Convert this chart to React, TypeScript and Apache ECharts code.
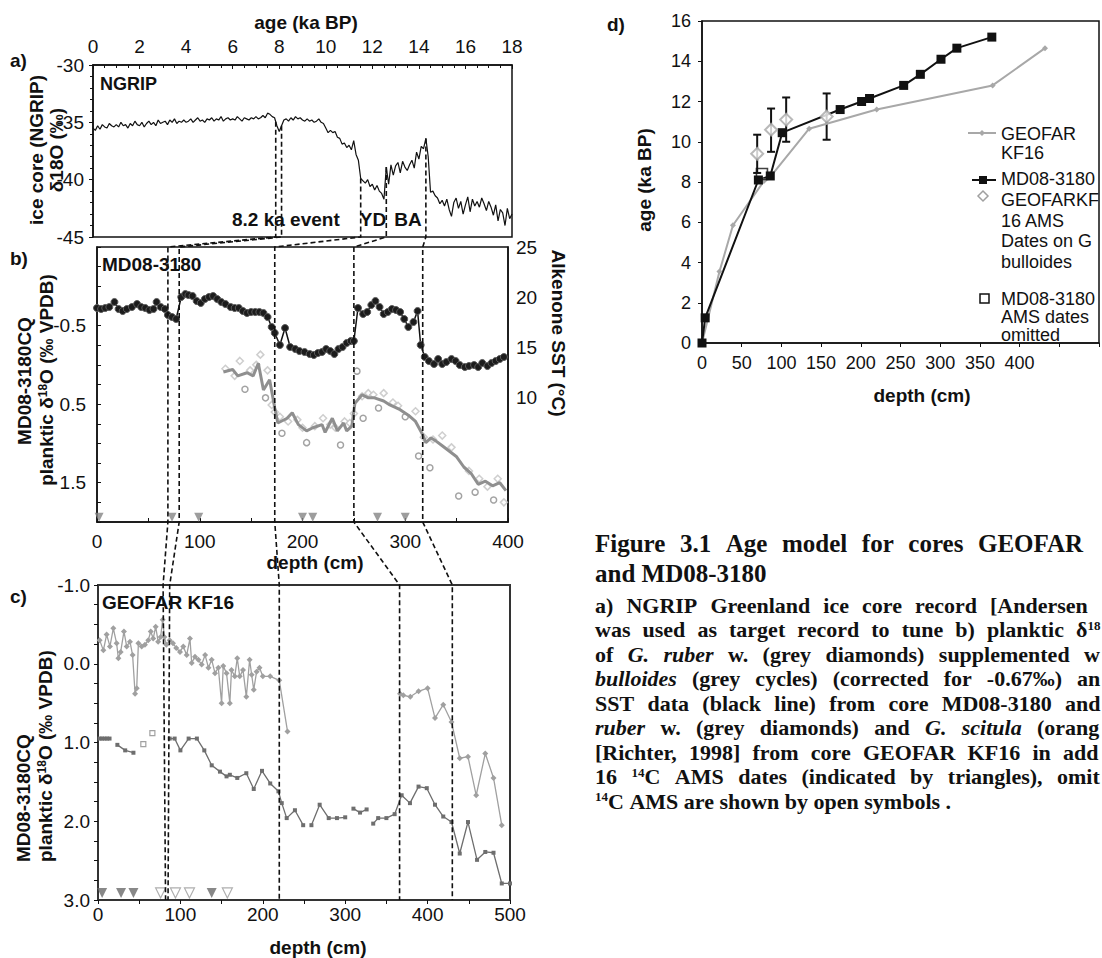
import React, { useEffect, useRef } from 'react';
import * as echarts from 'echarts';

const SANS = '"Liberation Sans", Arial, Helvetica, sans-serif';
const SERIF = '"Liberation Serif", "Times New Roman", Times, serif';
const INK = '#111111';

// ---------- a) NGRIP δ18O (‰), one value every 0.1 ka from 0 to 18 ka ----------
const NGRIP_STEP_KA = 0.1;
const ngripD18O = [
  -35.5, -35.7, -35.3, -35.6, -35.2, -35.4, -35.5, -35.1, -35.3, -35.4, -35.2,
  -35.4, -35.0, -35.3, -35.2, -35.5, -35.1, -35.3, -34.9, -35.2, -35.3,
  -35.0, -35.4, -35.1, -34.9, -35.2, -35.0, -35.3, -34.8, -35.1, -35.0,
  -34.9, -35.2, -34.8, -35.0, -34.7, -35.1, -34.9, -35.0, -34.8, -35.0,
  -34.9, -34.7, -35.0, -34.8, -34.6, -34.9, -34.8, -35.0, -34.7, -34.8,
  -34.6, -34.9, -34.7, -34.8, -34.5, -34.9, -34.7, -34.6, -34.8, -34.7,
  -34.8, -34.5, -34.7, -34.9, -34.6, -34.7, -34.8, -34.6, -34.7, -34.5,
  -34.7, -34.6, -34.4, -34.6, -34.2, -34.3, -34.5, -34.6, -35.3, -35.8,
  -35.3, -34.8, -34.7, -34.9, -34.6, -34.8, -34.5, -34.7, -34.6, -34.8,
  -34.9, -34.7, -34.9, -34.8, -35.0, -34.9, -34.7, -35.0, -35.1, -35.5,
  -35.9, -35.7, -35.9, -35.8, -36.3, -36.4, -36.9, -36.8, -37.2, -37.0,
  -37.4, -36.6, -37.8, -38.3, -39.9, -40.1, -40.3, -40.0, -40.6, -40.4,
  -40.9, -40.5, -41.0, -41.2, -41.7, -38.9, -40.4, -38.7, -39.6, -38.8,
  -38.5, -39.4, -38.4, -38.9, -39.2, -38.7, -38.3, -39.0, -37.6, -38.2,
  -37.1, -37.3, -36.4, -38.0, -41.1, -41.0, -41.4, -41.6, -42.1, -41.8,
  -42.3, -41.7, -42.6, -43.2, -42.0, -41.6, -42.5, -41.9, -43.0, -42.2,
  -41.5, -42.8, -41.7, -42.3, -41.9, -42.4, -41.6, -42.1, -42.7, -41.9,
  -42.4, -43.1, -42.2, -43.6, -42.6, -42.9, -44.0, -42.5, -43.4, -43.0,
];

// ---------- b) MD08-3180 ----------
const sstDepth = [
  0, 4, 8, 12, 17, 21, 25, 29, 34, 39, 43, 47, 51, 55, 58, 62, 66, 69, 73, 77,
  82, 86, 89, 93, 97, 101, 105, 109, 113, 117, 121, 125, 130, 134, 138, 142, 146, 150, 154, 158,
  162, 166, 170, 173, 178, 183, 188, 193, 197, 202, 207, 211, 215, 219, 223, 227, 231, 235, 239, 243,
  247, 250, 254, 259, 263, 267, 271, 275, 279, 283, 287, 291, 295, 299, 303, 308, 312, 315, 319, 323,
  328, 332, 336, 340, 345, 349, 353, 358, 362, 367, 371, 375, 380, 384, 388, 392, 396,
];
const sstValue = [
  18.9, 18.8, 18.9, 19.0, 19.5, 18.8, 18.6, 18.8, 19.0, 19.3, 19.0, 18.9, 18.7, 18.8, 19.5, 19.0, 18.8, 18.2, 18.0, 17.8,
  20.0, 20.3, 20.2, 20.1, 19.6, 19.4, 19.8, 20.0, 20.1, 19.8, 19.5, 19.3, 19.0, 18.9, 18.9, 18.6, 18.4, 18.5, 18.5, 18.5,
  18.4, 18.0, 17.0, 16.4, 15.2, 16.9, 15.0, 14.8, 14.6, 14.5, 14.3, 14.2, 14.4, 14.5, 14.8, 14.6, 14.3, 14.8, 15.0, 15.4,
  15.6, 15.6, 18.9, 18.3, 18.5, 19.2, 19.6, 19.0, 18.3, 18.5, 18.8, 18.7, 18.5, 17.8, 17.0, 17.5, 18.6, 15.2, 14.0, 13.6,
  13.3, 13.8, 13.3, 13.5, 13.8, 13.6, 13.2, 13.0, 13.1, 13.2, 13.0, 13.4, 13.1, 13.4, 13.6, 13.8, 14.0,
];
const smoothDepth = [
  123, 132, 137, 146, 152, 157, 162, 168, 173, 176, 185, 190, 196, 204, 210, 219, 222, 229, 234, 240,
  243, 248, 251, 258, 264, 270, 279, 285, 295, 303, 310, 317, 320, 325, 330, 336, 343, 350, 357, 364,
  371, 378, 385, 392, 398,
];
const smoothD18O = [
  0.09, 0.06, 0.14, 0.10, 0.14, -0.02, 0.32, 0.19, 0.55, 0.74, 0.68, 0.61, 0.76, 0.84, 0.80, 0.76, 0.86, 0.68, 0.84, 0.74,
  0.84, 0.78, 0.49, 0.38, 0.42, 0.42, 0.46, 0.51, 0.57, 0.64, 0.72, 0.89, 0.99, 0.93, 0.97, 1.03, 1.10, 1.17, 1.30, 1.38,
  1.52, 1.48, 1.54, 1.50, 1.60,
];
const ruberMD = [
  [125, 0.05], [134, 0.14], [139, -0.05], [149, 0.07], [155, 0.0], [159, -0.13], [166, 0.07], [170, 0.51],
  [173, 0.6], [178, 0.66], [186, 0.72], [195, 0.7], [200, 0.8], [212, 0.78], [220, 0.68], [227, 0.76],
  [232, 0.8], [241, 0.72], [246, 0.74], [250, 0.62], [258, 0.4], [264, 0.36], [269, 0.38], [279, 0.36],
  [288, 0.48], [293, 0.52], [310, 0.59], [318, 0.92], [327, 0.95], [336, 0.9], [345, 1.05], [362, 1.35],
  [372, 1.45], [380, 1.55], [390, 1.45], [396, 1.75],
];
const bulloidesMD = [
  [144, 0.31], [164, 0.42], [180, 0.87], [204, 0.99], [237, 1.02], [253, 0.08], [259, 0.68], [274, 0.55],
  [300, 0.66], [313, 1.16], [324, 1.31], [352, 1.67], [368, 1.62], [386, 1.72],
];
const datesMD = [2, 73, 99, 200, 210, 273, 300];
const DATE_ROW_MD = 1.94;

// ---------- c) GEOFAR KF16 ----------
const ruberKFUpper = [
  [2, -0.3], [6.5, -0.17], [10.5, -0.37], [14.5, -0.22], [18.6, -0.45], [22.6, -0.26], [24.7, -0.07], [27.5, -0.15],
  [31.5, -0.41], [34.8, -0.22], [38.8, -0.28], [42, -0.11], [45, 0.38], [47, 0.31], [49, -0.26], [53, -0.22],
  [57, -0.24], [61, -0.3], [64, -0.41], [67, -0.32], [70, -0.47], [73, -0.28], [76, -0.34], [78.5, -0.56],
  [80.5, -0.34], [83, -0.24], [87, -0.3], [91, -0.26], [95, -0.2], [99.5, -0.15], [103.5, -0.22], [107.6, -0.11],
  [111.6, -0.32], [113.7, -0.01], [117.7, -0.09], [121.8, -0.05], [125.8, 0.01], [130, -0.11], [134, 0.05], [138, -0.05],
  [142, 0.12], [146, 0.05], [150, 0.5], [152, 0.03], [156, 0.12], [160, 0.5], [162, 0.08], [166, 0.16],
  [169, -0.07], [172, 0.16], [176, 0.08], [180, 0.42], [184, -0.05], [186.5, 0.14], [189, 0.33], [192.5, 0.1],
  [196, 0.05], [200, 0.16], [209, 0.16], [220, 0.21], [230, 0.86],
];
const ruberKFLower = [
  [366.5, 0.38], [370.5, 0.4], [379, 0.42], [389, 0.35], [400, 0.31], [409, 0.69], [419, 0.52], [429, 0.74],
  [439, 1.2], [449, 1.18], [459, 1.67], [470, 1.14], [480, 1.45], [490, 2.05],
];
const scitulaKFSegments = [
  [[2, 0.95], [5, 0.95], [8, 0.95], [11, 0.95], [14, 0.95]],
  [[23.5, 1.03], [33, 1.1], [43, 1.13]],
  [
    [87, 0.95], [93, 0.95], [100, 1.1], [110, 0.95], [120, 0.95], [129, 1.1], [138, 1.29], [148, 1.37],
    [156, 1.43], [160, 1.41], [169, 1.45], [180, 1.39], [189, 1.59], [199, 1.36], [209, 1.52], [219, 1.62],
    [223, 1.77], [229, 1.96], [239, 1.86], [249, 2.05],
  ],
  [[259, 2.05], [269, 1.79], [280, 1.96], [290, 1.96], [300, 1.95]],
  [[310, 1.84], [318, 1.89], [326, 1.85]],
  [
    [334, 2.03], [340, 1.96], [350, 1.96], [360, 1.91], [368.5, 1.67], [378.6, 1.77], [389, 1.56], [399, 1.58],
    [409, 1.79], [419, 1.94], [429, 2.01], [439, 2.41], [449, 2.01], [460, 2.49], [470, 2.39], [480, 2.4],
    [490, 2.79], [500, 2.79],
  ],
];
const scitulaKFOpen = [[55, 1.02], [66, 0.88]];
const datesKFUsed = [5, 28, 43, 138];
const datesKFOmitted = [76, 94, 111, 157];
const DATE_ROW_KF = 2.91;

// ---------- d) age models ----------
const geofarDepth = [0, 22, 39, 78, 87, 135, 220, 366, 432];
const geofarAge = [0, 3.55, 5.85, 8.05, 8.3, 10.65, 11.6, 12.8, 14.65];
const mdDepth = [0, 4, 71, 86, 101, 174, 201, 211, 254, 275, 301, 321, 365];
const mdAge = [0, 1.25, 8.1, 8.3, 10.45, 11.6, 12.0, 12.15, 12.8, 13.35, 14.1, 14.65, 15.2];
const amsDepth = [69.5, 87, 106, 157];
const amsAge = [9.4, 10.6, 11.1, 11.25];
const amsLow = [8.45, 9.5, 10.0, 10.1];
const amsHigh = [10.35, 11.65, 12.2, 12.4];
const omittedDepth = [75.5];
const omittedAge = [8.4];

// ---------- tie points (8.2 ka event pair, YD end, YD start, BA start) ----------
const eventAge = [7.85, 8.1, 11.5, 12.6, 14.3];
const eventDepthMD = [69, 80, 173, 250, 317];
const eventDepthKFTop = [79, 87, 220, 366, 430];
const eventDepthKFBottom = [82, 85, 220, 366, 430];

// ---------- caption ----------
const CAPTION_X = 595;
const captionHead = [
  { text: 'Figure 3.1 Age model for cores GEOFAR', lastStart: 978 },
  { text: 'and MD08-3180' },
];
const captionBody = [
  { text: 'a) NGRIP Greenland ice core record [Andersen', lastStart: 990 },
  { text: 'was used as target record to tune b) planktic δ^18^', lastStart: 1076 },
  { text: 'of *G.* *ruber* w. (grey diamonds) supplemented w', lastStart: 1084 },
  { text: '*bulloides* (grey cycles) (corrected for -0.67‰) an', lastStart: 1077 },
  { text: 'SST data (black line) from core MD08-3180 and', lastStart: 1065 },
  { text: '*ruber* w. (grey diamonds) and *G.* *scitula* (orang', lastStart: 1037 },
  { text: '[Richter, 1998] from core GEOFAR KF16 in add', lastStart: 1063 },
  { text: '16 ^14^C AMS dates (indicated by triangles), omit', lastStart: 1057 },
  { text: '^14^C AMS are shown by open symbols .' },
];

const pairs = (xs: number[], ys: number[]) => xs.map((x, i) => [x, ys[i]]);
const withBreaks = (segs: number[][][]) =>
  segs.flatMap((s, i) => (i === 0 ? s : [[s[0][0], '-'], ...s]));
const ngripSeries = ngripD18O.map((v, i) => [Math.round(i * NGRIP_STEP_KA * 10) / 10, v]);

function ngripAt(age: number) {
  const f = age / NGRIP_STEP_KA;
  const i = Math.floor(f);
  const t = f - i;
  const a = ngripD18O[Math.min(i, ngripD18O.length - 1)];
  const b = ngripD18O[Math.min(i + 1, ngripD18O.length - 1)];
  return a + (b - a) * t;
}

const near = (v: number, list: number[]) => list.some((t) => Math.abs(t - v) < 1e-6);

const axisLineStyle = { show: true, onZero: false, lineStyle: { color: INK, width: 1.5 } };
const labelStyle = (extra: any = {}) => ({ fontFamily: SANS, fontSize: 19, color: INK, ...extra });

function buildOption() {
  const hollow = (border: string, width = 1.5) => ({ color: '#ffffff', borderColor: border, borderWidth: width });
  return {
    animation: false,
    backgroundColor: '#ffffff',
    grid: [
      { left: 93, top: 65, width: 419, height: 172, show: true, borderColor: INK, borderWidth: 1.5, backgroundColor: 'transparent' },
      { left: 97, top: 247, width: 411, height: 275, show: true, borderColor: INK, borderWidth: 1.5, backgroundColor: 'transparent' },
      { left: 98, top: 585, width: 412, height: 315, show: true, borderColor: '#333', borderWidth: 2, backgroundColor: 'transparent' },
      { left: 702, top: 21, width: 406, height: 322, show: true, borderColor: INK, borderWidth: 1.5, backgroundColor: 'transparent' },
    ],
    xAxis: [
      {
        type: 'value', gridIndex: 0, position: 'top', min: 0, max: 18, interval: 2,
        axisLine: axisLineStyle,
        axisTick: { show: true, inside: true, length: 4, lineStyle: { color: INK } },
        minorTick: { show: true, splitNumber: 4, length: 3, lineStyle: { color: INK } },
        axisLabel: labelStyle({ margin: 9 }),
        splitLine: { show: false },
      },
      {
        type: 'value', gridIndex: 1, position: 'bottom', min: 0, max: 400, interval: 100,
        axisLine: axisLineStyle,
        axisTick: { show: true, inside: true, length: 4, lineStyle: { color: INK } },
        minorTick: { show: true, splitNumber: 2, length: 4, lineStyle: { color: INK } },
        axisLabel: labelStyle({ margin: 10 }),
        splitLine: { show: false },
      },
      {
        type: 'value', gridIndex: 2, position: 'bottom', min: 0, max: 500, interval: 100,
        axisLine: { show: true, onZero: false, lineStyle: { color: '#333', width: 2 } },
        axisTick: { show: true, length: 4, lineStyle: { color: INK } },
        minorTick: { show: true, splitNumber: 2, length: 4, lineStyle: { color: INK } },
        axisLabel: labelStyle({ margin: 5 }),
        splitLine: { show: false },
      },
      {
        type: 'value', gridIndex: 3, position: 'bottom', min: 0, max: 500, interval: 50,
        axisLine: axisLineStyle,
        axisTick: { show: true, length: 4, lineStyle: { color: INK } },
        axisLabel: labelStyle({ fontSize: 18, margin: 11, formatter: (v: number) => (v <= 400 ? String(v) : '') }),
        splitLine: { show: false },
      },
    ],
    yAxis: [
      {
        type: 'value', gridIndex: 0, min: -45, max: -30, interval: 5,
        axisLine: axisLineStyle,
        axisTick: { show: true, length: 4, lineStyle: { color: INK } },
        minorTick: { show: true, splitNumber: 5, length: 3, lineStyle: { color: INK } },
        axisLabel: labelStyle({ margin: 9 }),
        splitLine: { show: false },
      },
      {
        type: 'value', gridIndex: 1, inverse: true, min: -1.5, max: 2.0, interval: 0.25,
        axisLine: axisLineStyle,
        axisTick: { show: true, inside: true, length: 4, lineStyle: { color: INK } },
        axisLabel: labelStyle({ margin: 11, formatter: (v: number) => (near(v, [-0.5, 0.5, 1.5]) ? v.toFixed(1) : '') }),
        splitLine: { show: false },
      },
      {
        type: 'value', gridIndex: 1, position: 'right', min: -2.5, max: 25, interval: 2.5,
        axisLine: axisLineStyle,
        axisTick: { show: false },
        axisLabel: labelStyle({ margin: 8, formatter: (v: number) => (near(v, [10, 15, 20, 25]) ? String(v) : '') }),
        splitLine: { show: false },
      },
      {
        type: 'value', gridIndex: 2, inverse: true, min: -1, max: 3, interval: 0.25,
        axisLine: { show: true, onZero: false, lineStyle: { color: '#333', width: 2 } },
        axisTick: { show: true, length: 4, lineStyle: { color: INK } },
        axisLabel: labelStyle({ margin: 8, formatter: (v: number) => (Math.abs(v - Math.round(v)) < 1e-6 ? v.toFixed(1) : '') }),
        splitLine: { show: false },
      },
      {
        type: 'value', gridIndex: 3, min: 0, max: 16, interval: 2,
        axisLine: axisLineStyle,
        axisTick: { show: true, length: 4, lineStyle: { color: INK } },
        axisLabel: labelStyle({ fontSize: 18, margin: 11 }),
        splitLine: { show: false },
      },
    ],
    series: [
      // a) NGRIP
      {
        name: 'NGRIP', type: 'line', xAxisIndex: 0, yAxisIndex: 0, data: ngripSeries,
        showSymbol: false, lineStyle: { color: INK, width: 1.2 },
      },
      // b) planktic δ18O: raw measurements and running mean
      {
        name: 'G. ruber MD08-3180', type: 'scatter', xAxisIndex: 1, yAxisIndex: 1, data: ruberMD,
        symbol: 'diamond', symbolSize: 7, itemStyle: hollow('#c2c2c2'),
      },
      {
        name: 'G. bulloides MD08-3180', type: 'scatter', xAxisIndex: 1, yAxisIndex: 1, data: bulloidesMD,
        symbol: 'circle', symbolSize: 6, itemStyle: hollow('#8c8c8c'),
      },
      {
        name: 'planktic δ18O mean', type: 'line', xAxisIndex: 1, yAxisIndex: 1, data: pairs(smoothDepth, smoothD18O),
        showSymbol: false, lineStyle: { color: '#8f8f8f', width: 3 },
      },
      // b) Alkenone SST
      {
        name: 'Alkenone SST', type: 'line', xAxisIndex: 1, yAxisIndex: 2, data: pairs(sstDepth, sstValue),
        symbol: 'circle', symbolSize: 7, showSymbol: true,
        itemStyle: { color: '#1c1c1c', borderColor: '#5a5a5a', borderWidth: 1 },
        lineStyle: { color: INK, width: 1.5 },
      },
      {
        name: '14C dates MD08-3180', type: 'scatter', xAxisIndex: 1, yAxisIndex: 1,
        data: datesMD.map((d) => [d, DATE_ROW_MD]),
        symbol: 'triangle', symbolRotate: 180, symbolSize: 9, itemStyle: { color: '#858585' },
      },
      // c) GEOFAR KF16
      {
        name: 'G. ruber KF16', type: 'line', xAxisIndex: 2, yAxisIndex: 3, data: ruberKFUpper,
        symbol: 'diamond', symbolSize: 6, showSymbol: true,
        itemStyle: { color: '#a0a0a0' }, lineStyle: { color: '#a0a0a0', width: 1.3 },
      },
      {
        name: 'G. ruber KF16 deep', type: 'line', xAxisIndex: 2, yAxisIndex: 3, data: ruberKFLower,
        symbol: 'diamond', symbolSize: 6, showSymbol: true,
        itemStyle: { color: '#a0a0a0' }, lineStyle: { color: '#a0a0a0', width: 1.3 },
      },
      {
        name: 'G. scitula KF16', type: 'line', xAxisIndex: 2, yAxisIndex: 3, data: withBreaks(scitulaKFSegments),
        connectNulls: false, symbol: 'rect', symbolSize: 4, showSymbol: true,
        itemStyle: { color: '#6e6e6e' }, lineStyle: { color: '#6e6e6e', width: 1.3 },
      },
      {
        name: 'G. scitula KF16 omitted', type: 'scatter', xAxisIndex: 2, yAxisIndex: 3, data: scitulaKFOpen,
        symbol: 'rect', symbolSize: 5, itemStyle: hollow('#8a8a8a', 1.2),
      },
      {
        name: '14C dates KF16', type: 'scatter', xAxisIndex: 2, yAxisIndex: 3,
        data: datesKFUsed.map((d) => [d, DATE_ROW_KF]),
        symbol: 'triangle', symbolRotate: 180, symbolSize: 10, itemStyle: { color: '#6a6a6a' },
      },
      {
        name: '14C dates KF16 omitted', type: 'scatter', xAxisIndex: 2, yAxisIndex: 3,
        data: datesKFOmitted.map((d) => [d, DATE_ROW_KF]),
        symbol: 'triangle', symbolRotate: 180, symbolSize: 10, itemStyle: hollow('#9a9a9a', 1.2),
      },
      // d) age models
      {
        name: 'GEOFAR KF16', type: 'line', xAxisIndex: 3, yAxisIndex: 4, data: pairs(geofarDepth, geofarAge),
        symbol: 'diamond', symbolSize: 6, showSymbol: true,
        itemStyle: { color: '#a8a8a8' }, lineStyle: { color: '#a8a8a8', width: 2 },
      },
      {
        name: 'MD08-3180', type: 'line', xAxisIndex: 3, yAxisIndex: 4, data: pairs(mdDepth, mdAge),
        symbol: 'rect', symbolSize: 9, showSymbol: true,
        itemStyle: { color: INK }, lineStyle: { color: INK, width: 2 },
      },
      {
        name: 'AMS error', type: 'custom', xAxisIndex: 3, yAxisIndex: 4,
        data: amsDepth.map((d, i) => [d, amsLow[i], amsHigh[i]]),
        encode: { x: 0, y: [1, 2] },
        z: 3,
        renderItem: (_params: any, api: any) => {
          const x = api.value(0);
          const lo = api.coord([x, api.value(1)]);
          const hi = api.coord([x, api.value(2)]);
          const st = { stroke: INK, lineWidth: 2 };
          return {
            type: 'group',
            children: [
              { type: 'line', shape: { x1: lo[0], y1: lo[1], x2: hi[0], y2: hi[1] }, style: st },
              { type: 'line', shape: { x1: lo[0] - 4, y1: lo[1], x2: lo[0] + 4, y2: lo[1] }, style: st },
              { type: 'line', shape: { x1: hi[0] - 4, y1: hi[1], x2: hi[0] + 4, y2: hi[1] }, style: st },
            ],
          };
        },
      },
      {
        name: 'GEOFARKF16 AMS', type: 'scatter', xAxisIndex: 3, yAxisIndex: 4, data: pairs(amsDepth, amsAge),
        symbol: 'diamond', symbolSize: 12, z: 4, itemStyle: hollow('#a8a8a8', 2),
      },
      {
        name: 'MD08-3180 omitted', type: 'scatter', xAxisIndex: 3, yAxisIndex: 4, data: pairs(omittedDepth, omittedAge),
        symbol: 'rect', symbolSize: 11, z: 4, itemStyle: { color: 'rgba(255,255,255,0)', borderColor: INK, borderWidth: 1.6 },
      },
    ],
  };
}

function text(x: number, y: number, t: string, o: any = {}) {
  const align = o.align || 'left';
  const valign = o.verticalAlign || 'middle';
  return {
    type: 'text', x, y, rotation: o.rotation || 0, z: 100, silent: true,
    style: {
      text: t, fill: INK,
      fontFamily: o.fontFamily || SANS, fontSize: o.fontSize || 19,
      fontWeight: o.fontWeight || 'bold', fontStyle: o.fontStyle || 'normal',
      align, verticalAlign: valign, textAlign: align, textVerticalAlign: valign,
      lineHeight: o.lineHeight, rich: o.rich,
    },
  };
}

const supRich = (size: number, family: string) => ({
  s: { fontSize: size, fontWeight: 'bold', fontFamily: family, fill: INK, verticalAlign: 'top', lineHeight: size },
});

let measureCtx: CanvasRenderingContext2D | null = null;
function measure(t: string, font: string) {
  if (!measureCtx) measureCtx = document.createElement('canvas').getContext('2d');
  measureCtx!.font = font;
  return measureCtx!.measureText(t).width;
}

// Lays one caption line out word by word; justified when lastStart is given.
function captionLine(line: { text: string; lastStart?: number }, y: number, size: number) {
  const supSize = Math.round(size * 0.6);
  const fontOf = (k: string) =>
    k === 'i' ? `italic bold ${size}px ${SERIF}` : k === 's' ? `bold ${supSize}px ${SERIF}` : `bold ${size}px ${SERIF}`;
  const words = line.text.split(' ').map((w) => {
    const frags: { t: string; k: string }[] = [];
    const re = /(\*[^*]+\*|\^[^^]+\^|[^*^]+)/g;
    let m: RegExpExecArray | null;
    while ((m = re.exec(w))) {
      const s = m[0];
      if (s[0] === '*') frags.push({ t: s.slice(1, -1), k: 'i' });
      else if (s[0] === '^') frags.push({ t: s.slice(1, -1), k: 's' });
      else frags.push({ t: s, k: 'n' });
    }
    const width = frags.reduce((acc, f) => acc + measure(f.t, fontOf(f.k)), 0);
    return { frags, width };
  });
  const space = measure(' ', fontOf('n'));
  let gap = space;
  if (line.lastStart && words.length > 1) {
    const used = words.slice(0, -1).reduce((a, w) => a + w.width, 0);
    gap = (line.lastStart - CAPTION_X - used) / (words.length - 1);
  }
  const rich = {
    n: { fontSize: size, fontWeight: 'bold', fontFamily: SERIF, fill: INK, lineHeight: size },
    i: { fontSize: size, fontWeight: 'bold', fontStyle: 'italic', fontFamily: SERIF, fill: INK, lineHeight: size },
    s: { fontSize: supSize, fontWeight: 'bold', fontFamily: SERIF, fill: INK, verticalAlign: 'top', lineHeight: supSize },
  };
  const out: any[] = [];
  let x = CAPTION_X;
  words.forEach((w) => {
    const str = w.frags.map((f) => `{${f.k}|${f.t}}`).join('');
    out.push(text(x, y, str, { fontFamily: SERIF, fontSize: size, rich }));
    x += w.width + gap;
  });
  return out;
}

function buildGraphics(chart: echarts.ECharts) {
  const px = (xi: number, yi: number, p: number[]) =>
    chart.convertToPixel({ xAxisIndex: xi, yAxisIndex: yi } as any, p) as unknown as number[];
  const g: any[] = [];

  // dashed tie lines running through panels a, b and c
  eventAge.forEach((age, i) => {
    const pts = [
      px(0, 0, [age, ngripAt(age)]),
      px(0, 0, [age, -45]),
      px(1, 1, [eventDepthMD[i], -1.5]),
      px(1, 1, [eventDepthMD[i], 2.0]),
      px(2, 3, [eventDepthKFTop[i], -1]),
      px(2, 3, [eventDepthKFBottom[i], 3]),
    ];
    g.push({
      type: 'polyline', z: 90, silent: true,
      shape: { points: pts },
      style: { stroke: INK, lineWidth: 1.6, lineDash: [5, 3], fill: 'none' },
    });
  });

  // panel letters and titles
  g.push(text(10, 60, 'a)'), text(10, 258, 'b)'), text(10, 596, 'c)'), text(607, 24, 'd)'));
  g.push(text(100, 84, 'NGRIP', { fontSize: 18 }));
  g.push(text(102, 264, 'MD08-3180'));
  g.push(text(102, 602, 'GEOFAR KF16'));
  g.push(text(232, 219, '8.2 ka event'));
  g.push(text(373, 219, 'YD', { align: 'center' }));
  g.push(text(408, 219, 'BA', { align: 'center' }));

  // axis titles
  g.push(text(306, 22, 'age (ka BP)', { align: 'center' }));
  g.push(text(36, 150, 'ice core (NGRIP)', { align: 'center', rotation: Math.PI / 2, fontSize: 19 }));
  g.push(text(56, 150, 'δ18O (‰)', { align: 'center', rotation: Math.PI / 2, fontSize: 19 }));

  g.push(text(315, 562, 'depth (cm)', { align: 'center' }));
  g.push(text(24, 381, 'MD08-3180CQ', { align: 'center', rotation: Math.PI / 2 }));
  g.push(text(46, 380, 'planktic δ{s|18}O (‰ VPDB)', { align: 'center', rotation: Math.PI / 2, rich: supRich(12, SANS) }));
  g.push(text(558, 333, 'Alkenone SST (°C)', { align: 'center', rotation: -Math.PI / 2 }));

  g.push(text(318, 947, 'depth (cm)', { align: 'center' }));
  g.push(text(23, 862, 'MD08-3180CQ', { align: 'left', rotation: Math.PI / 2 }));
  g.push(text(45, 862, 'planktic δ{s|18}O (‰ VPDB)', { align: 'left', rotation: Math.PI / 2, rich: supRich(12, SANS) }));

  g.push(text(922, 395, 'depth (cm)', { align: 'center' }));
  g.push(text(644, 180, 'age (ka BP)', { align: 'center', rotation: Math.PI / 2 }));

  // legend of panel d
  const LEG = { fontWeight: 'normal', fontSize: 18 };
  const diamond = (cx: number, cy: number, r: number) => [[cx, cy - r], [cx + r, cy], [cx, cy + r], [cx - r, cy]];
  g.push({ type: 'line', z: 60, shape: { x1: 968, y1: 133, x2: 996, y2: 133 }, style: { stroke: '#a8a8a8', lineWidth: 2 } });
  g.push({ type: 'polygon', z: 61, shape: { points: diamond(982, 133, 3) }, style: { fill: '#a8a8a8' } });
  g.push(text(1001, 124, 'GEOFAR\nKF16', { ...LEG, verticalAlign: 'top', lineHeight: 19 }));
  g.push({ type: 'line', z: 60, shape: { x1: 972, y1: 180, x2: 996, y2: 180 }, style: { stroke: INK, lineWidth: 2 } });
  g.push({ type: 'rect', z: 61, shape: { x: 979, y: 176, width: 8, height: 8 }, style: { fill: INK } });
  g.push(text(1001, 179, 'MD08-3180', LEG));
  g.push({ type: 'polygon', z: 61, shape: { points: diamond(983, 196, 5) }, style: { fill: '#fff', stroke: '#a0a0a0', lineWidth: 1.5 } });
  g.push(text(1001, 190, 'GEOFARKF\n16 AMS\nDates on G\nbulloides', { ...LEG, verticalAlign: 'top', lineHeight: 20.5 }));
  g.push({ type: 'rect', z: 61, shape: { x: 980, y: 294, width: 9, height: 9 }, style: { fill: '#fff', stroke: INK, lineWidth: 1.5 } });
  g.push(text(1001, 290, 'MD08-3180\nAMS dates\nomitted', { ...LEG, verticalAlign: 'top', lineHeight: 18 }));

  // caption
  g.push(...captionLine(captionHead[0], 543, 25));
  g.push(...captionLine(captionHead[1], 573, 25));
  captionBody.forEach((line, i) => g.push(...captionLine(line, 605 + i * 24.5, 22)));

  return g;
}

export default function App() {
  const ref = useRef<HTMLDivElement>(null);
  useEffect(() => {
    if (!ref.current) return;
    const chart = echarts.init(ref.current, null, { renderer: 'svg' });
    chart.setOption(buildOption() as any);
    chart.setOption({ graphic: buildGraphics(chart) } as any);
    return () => chart.dispose();
  }, []);
  return (
    <div
      ref={ref}
      style={{ position: 'absolute', left: 0, top: 0, width: 1102, height: 958, background: '#ffffff' }}
    />
  );
}
